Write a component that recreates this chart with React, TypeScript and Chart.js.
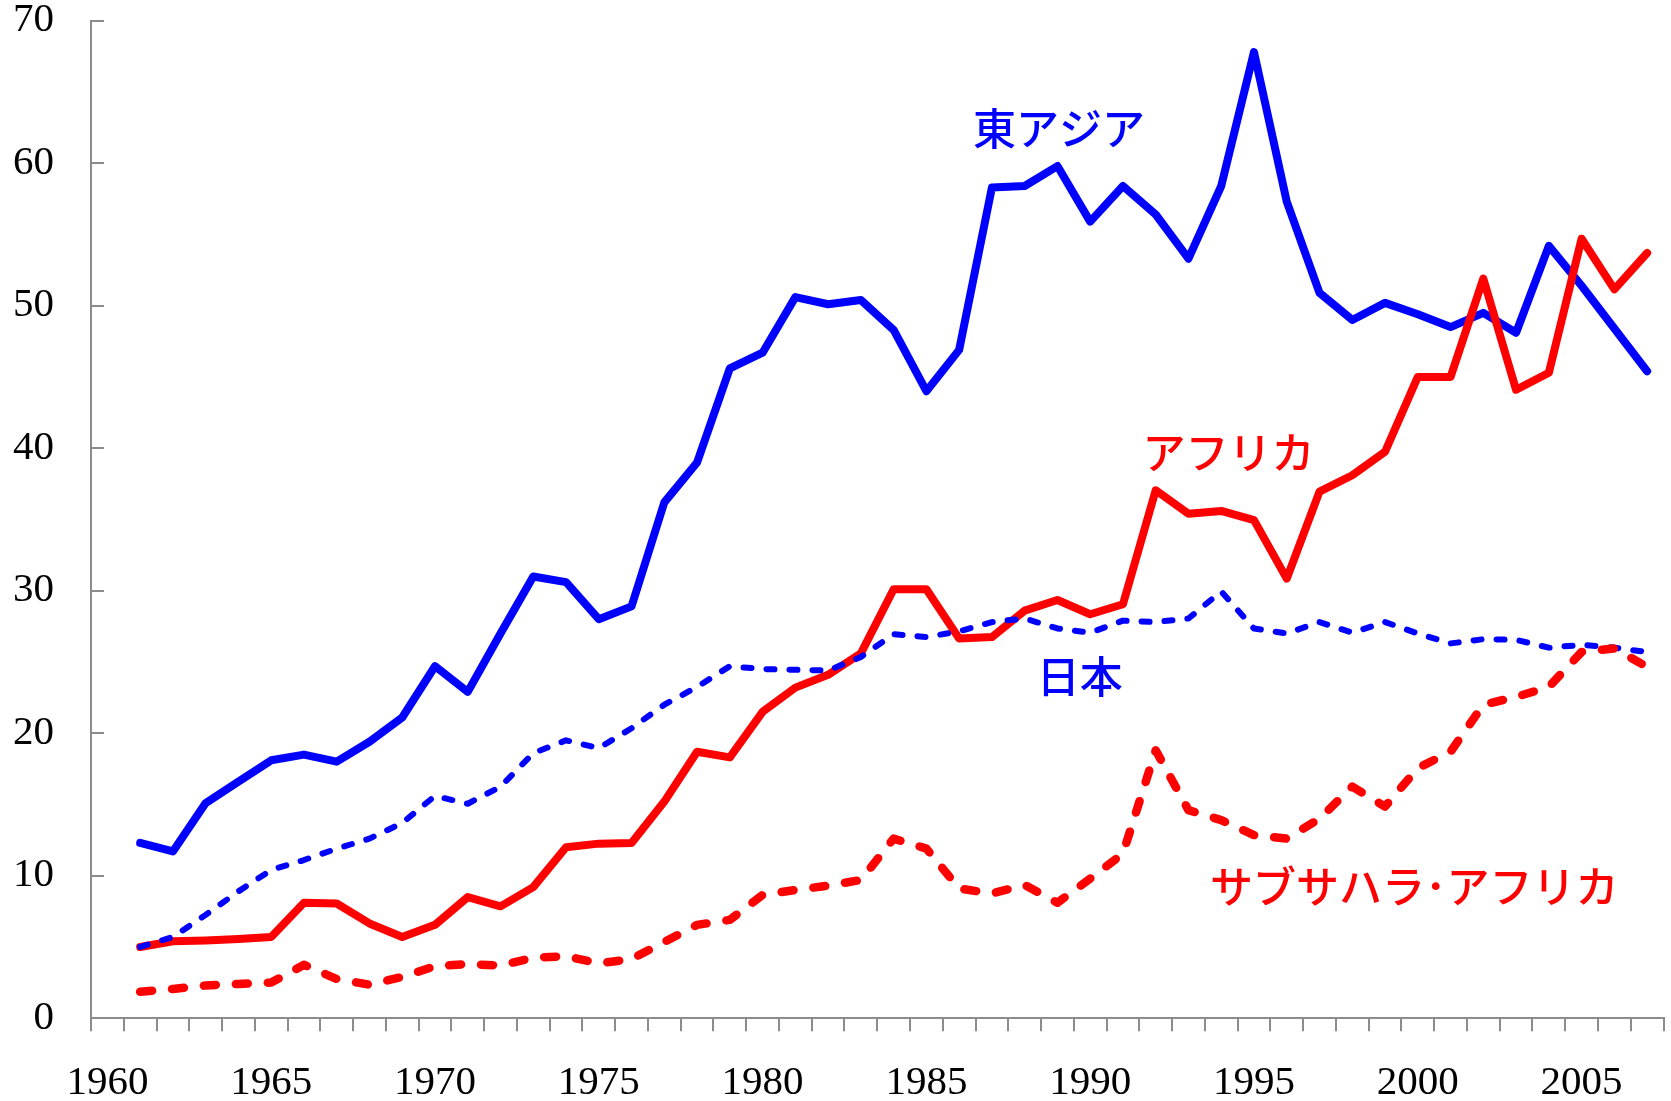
import React, { useEffect, useRef } from 'react';
import { Chart, registerables } from 'chart.js';

Chart.register(...registerables);

const YEARS = [
  '1960', '1961', '1962', '1963', '1964', '1965', '1966', '1967', '1968', '1969',
  '1970', '1971', '1972', '1973', '1974', '1975', '1976', '1977', '1978', '1979',
  '1980', '1981', '1982', '1983', '1984', '1985', '1986', '1987', '1988', '1989',
  '1990', '1991', '1992', '1993', '1994', '1995', '1996', '1997', '1998', '1999',
  '2000', '2001', '2002', '2003', '2004', '2005', '2006', '2007',
];

// 東アジア (1960 has no value)
const EAST_ASIA = [
  null,
  12.3, 11.7, 15.1, 16.6, 18.1, 18.5, 18.0, 19.4, 21.1, 24.7,
  22.9, 27.0, 31.0, 30.6, 28.0, 28.9, 36.2, 39.0, 45.6, 46.7,
  50.6, 50.1, 50.4, 48.3, 44.0, 46.9, 58.3, 58.4, 59.8, 55.9,
  58.4, 56.4, 53.3, 58.4, 67.8, 57.3, 50.9, 49.0, 50.2, 49.4,
  48.5, 49.5, 48.1, 54.2, 51.4, 48.4, 45.4,
];

// アフリカ
const AFRICA = [
  null,
  5.0, 5.4, 5.45, 5.55, 5.7, 8.1, 8.05, 6.65, 5.7, 6.55,
  8.5, 7.85, 9.2, 12.0, 12.25, 12.3, 15.2, 18.7, 18.3, 21.5,
  23.2, 24.1, 25.6, 30.1, 30.1, 26.65, 26.75, 28.6, 29.35, 28.35,
  29.05, 37.05, 35.4, 35.6, 34.95, 30.85, 36.95, 38.1, 39.75, 45.0,
  45.0, 51.9, 44.1, 45.3, 54.7, 51.15, 53.7,
];

// 日本
const JAPAN = [
  null,
  5.0, 5.7, 7.25, 8.9, 10.4, 11.1, 11.9, 12.6, 13.7, 15.6,
  15.05, 16.25, 18.6, 19.5, 18.95, 20.35, 22.0, 23.25, 24.7, 24.5,
  24.45, 24.4, 25.35, 26.95, 26.75, 27.15, 27.8, 28.05, 27.35, 27.05,
  27.9, 27.8, 28.05, 29.95, 27.35, 27.0, 27.8, 27.05, 27.8, 27.0,
  26.3, 26.6, 26.55, 26.0, 26.2, 26.0, 25.7,
];

// サブサハラ・アフリカ
const SUB_SAHARA = [
  null,
  1.85, 2.05, 2.3, 2.4, 2.5, 3.75, 2.75, 2.35, 2.9, 3.65,
  3.8, 3.7, 4.25, 4.35, 3.85, 4.15, 5.35, 6.55, 6.9, 8.65,
  9.0, 9.3, 9.7, 12.6, 11.9, 9.1, 8.75, 9.35, 8.1, 9.8,
  11.55, 18.8, 14.6, 13.9, 12.85, 12.6, 14.0, 16.25, 14.85, 17.55,
  18.7, 22.0, 22.55, 23.25, 25.7, 25.95, 24.65,
];

const Y_MIN = 0;
const Y_MAX = 70;
const Y_STEP = 10;

const BLUE = '#0000ff';
const RED = '#ff0000';
const AXIS_COLOR = '#8c8c8c';

// Series name labels placed in data coordinates (year, value)
const LABEL_TEXTS = ['東アジア', 'アフリカ', '日本', 'サブサハラ･アフリカ'];
const LABEL_YEARS = [1989.05, 1994.22, 1989.68, 1999.89];
const LABEL_VALUES = [62.4, 39.7, 23.96, 9.23];
const LABEL_COLORS = [BLUE, RED, BLUE, RED];

const W = 1671;
const H = 1101;
const TICK_FONT = "'Liberation Serif', 'Times New Roman', serif";

const overlayPlugin = {
  id: 'overlay',
  beforeDatasetsDraw(chart: any) {
    const { ctx, scales } = chart;
    const y = scales.y;
    ctx.save();
    ctx.strokeStyle = AXIS_COLOR;
    ctx.lineWidth = 2;
    y.ticks.forEach((t: any) => {
      const py = Math.round(y.getPixelForValue(t.value));
      ctx.beginPath();
      ctx.moveTo(y.right, py);
      ctx.lineTo(y.right + 13, py);
      ctx.stroke();
    });
    ctx.restore();
  },
  afterDatasetsDraw(chart: any) {
    const { ctx, scales } = chart;
    const x = scales.x;
    const y = scales.y;
    ctx.save();
    ctx.font = "500 43px 'Noto Sans CJK JP', sans-serif";
    ctx.textAlign = 'center';
    ctx.textBaseline = 'middle';
    LABEL_TEXTS.forEach((text, i) => {
      ctx.fillStyle = LABEL_COLORS[i];
      const px = x.getPixelForValue(LABEL_YEARS[i] - Number(YEARS[0]));
      const py = y.getPixelForValue(LABEL_VALUES[i]);
      ctx.fillText(text, px, py);
    });
    ctx.restore();
  },
};

export default function App() {
  const canvasRef = useRef<HTMLCanvasElement | null>(null);

  useEffect(() => {
    const canvas = canvasRef.current;
    if (!canvas) return;
    const chart = new Chart(canvas, {
      type: 'line',
      data: {
        labels: YEARS,
        datasets: [
          {
            label: 'サブサハラ・アフリカ',
            data: SUB_SAHARA,
            borderColor: RED,
            borderWidth: 8.5,
            borderDash: [12, 20],
            borderCapStyle: 'round',
            borderJoinStyle: 'round',
            pointRadius: 0,
            tension: 0,
          },
          {
            label: '日本',
            data: JAPAN,
            borderColor: BLUE,
            borderWidth: 6,
            borderDash: [8, 15],
            borderCapStyle: 'round',
            borderJoinStyle: 'round',
            pointRadius: 0,
            tension: 0,
          },
          {
            label: 'アフリカ',
            data: AFRICA,
            borderColor: RED,
            borderWidth: 8,
            borderJoinStyle: 'round',
            borderCapStyle: 'round',
            pointRadius: 0,
            tension: 0,
          },
          {
            label: '東アジア',
            data: EAST_ASIA,
            borderColor: BLUE,
            borderWidth: 8,
            borderJoinStyle: 'round',
            borderCapStyle: 'round',
            pointRadius: 0,
            tension: 0,
          },
        ],
      },
      options: {
        responsive: false,
        animation: false,
        devicePixelRatio: 1,
        layout: {
          autoPadding: false,
          padding: { left: 0, top: 20.7, right: 7.5, bottom: 0 },
        },
        plugins: {
          legend: { display: false },
          tooltip: { enabled: false },
          title: { display: false },
        },
        scales: {
          x: {
            type: 'category',
            offset: true,
            afterFit: (scale: any) => {
              scale.height = H - 1018.2;
            },
            grid: {
              display: true,
              offset: true,
              drawOnChartArea: false,
              drawTicks: true,
              tickLength: 13,
              color: AXIS_COLOR,
              lineWidth: 2,
            },
            border: { display: true, color: AXIS_COLOR, width: 2 },
            ticks: {
              autoSkip: false,
              maxRotation: 0,
              minRotation: 0,
              padding: 0,
              color: '#000',
              font: { family: TICK_FONT, size: 41, lineHeight: 2.517 },
              callback: (_v: any, i: number) => (Number(YEARS[i]) % 5 === 0 ? YEARS[i] : ''),
            },
          },
          y: {
            min: Y_MIN,
            max: Y_MAX,
            afterFit: (scale: any) => {
              scale.width = 91;
            },
            grid: {
              display: true,
              drawOnChartArea: false,
              drawTicks: true,
              tickLength: 37,
              color: 'rgba(0,0,0,0)',
            },
            border: { display: true, color: AXIS_COLOR, width: 2 },
            ticks: {
              stepSize: Y_STEP,
              padding: 0,
              color: '#000',
              font: { family: TICK_FONT, size: 41, lineHeight: 1 },
            },
          },
        },
      },
      plugins: [overlayPlugin],
    } as any);
    return () => chart.destroy();
  }, []);

  return (
    <div style={{ position: 'fixed', left: 0, top: 0, width: W, height: H, background: '#fff' }}>
      <canvas ref={canvasRef} width={W} height={H} style={{ display: 'block', width: W, height: H }} />
    </div>
  );
}
